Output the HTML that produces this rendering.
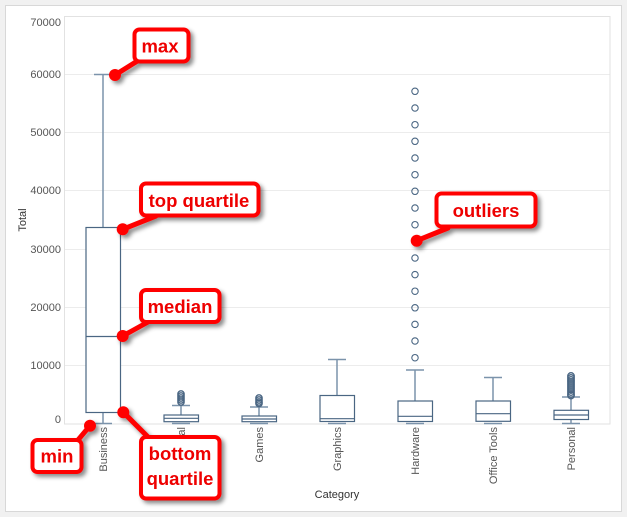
<!DOCTYPE html>
<html><head><meta charset="utf-8"><style>
html,body{margin:0;padding:0;background:#f1f1f1;}
svg{display:block;}
text{font-family:"Liberation Sans",Arial,sans-serif;}
</style></head><body>
<svg width="627" height="517" viewBox="0 0 627 517" xmlns="http://www.w3.org/2000/svg">
<defs>
<filter id="sh" x="-20%" y="-20%" width="150%" height="160%">
<feDropShadow dx="3" dy="3" stdDeviation="2" flood-color="#000" flood-opacity="0.45"/>
</filter>
</defs>
<rect x="0" y="0" width="627" height="517" fill="#f1f1f1"/>
<rect x="5.5" y="5.5" width="616" height="506" fill="#fff" stroke="#d8d8d8"/>

<!-- grid -->
<g stroke="#ececec" stroke-width="1">
<line x1="64" x2="610" y1="74.5" y2="74.5"/>
<line x1="64" x2="610" y1="132.5" y2="132.5"/>
<line x1="64" x2="610" y1="190.5" y2="190.5"/>
<line x1="64" x2="610" y1="249.5" y2="249.5"/>
<line x1="64" x2="610" y1="307.5" y2="307.5"/>
<line x1="64" x2="610" y1="365.5" y2="365.5"/>
</g>
<rect x="64.5" y="16.5" width="545.5" height="407.5" fill="none" stroke="#e2e2e2"/>

<!-- y ticks -->
<g font-size="11" fill="#555" text-anchor="end">
<text x="61" y="26">70000</text>
<text x="61" y="78">60000</text>
<text x="61" y="136">50000</text>
<text x="61" y="194">40000</text>
<text x="61" y="253">30000</text>
<text x="61" y="311">20000</text>
<text x="61" y="369">10000</text>
<text x="61" y="423">0</text>
</g>
<text transform="translate(26,220) rotate(-90)" font-size="11" fill="#333" text-anchor="middle">Total</text>

<!-- x labels -->
<g font-size="11" fill="#555" text-anchor="end">
<text transform="translate(107,427) rotate(-90)">Business</text>
<text transform="translate(185,427) rotate(-90)">Educational</text>
<text transform="translate(263,427) rotate(-90)">Games</text>
<text transform="translate(341,427) rotate(-90)">Graphics</text>
<text transform="translate(419,427) rotate(-90)">Hardware</text>
<text transform="translate(497,427) rotate(-90)">Office Tools</text>
<text transform="translate(575,427) rotate(-90)">Personal</text>
</g>
<text x="337" y="498" font-size="11" fill="#333" text-anchor="middle">Category</text>

<!-- whiskers -->
<g stroke="#7b93ab" stroke-width="1.5" fill="none">
<line x1="103" x2="103" y1="74.5" y2="227.5"/>
<line x1="94" x2="112" y1="74.5" y2="74.5"/>
<line x1="103" x2="103" y1="412.5" y2="423.5"/>
<line x1="94" x2="112" y1="423.5" y2="423.5"/>
<line x1="181" x2="181" y1="405.5" y2="415"/>
<line x1="172" x2="190" y1="405.5" y2="405.5"/>
<line x1="172" x2="190" y1="423.5" y2="423.5"/>
<line x1="259" x2="259" y1="407" y2="416"/>
<line x1="250" x2="268" y1="407" y2="407"/>
<line x1="250" x2="268" y1="423.5" y2="423.5"/>
<line x1="337" x2="337" y1="359.5" y2="395.5"/>
<line x1="328" x2="346" y1="359.5" y2="359.5"/>
<line x1="328" x2="346" y1="423.5" y2="423.5"/>
<line x1="415" x2="415" y1="370" y2="401"/>
<line x1="406" x2="424" y1="370" y2="370"/>
<line x1="406" x2="424" y1="423.5" y2="423.5"/>
<line x1="493" x2="493" y1="377.5" y2="401"/>
<line x1="484" x2="502" y1="377.5" y2="377.5"/>
<line x1="484" x2="502" y1="423.5" y2="423.5"/>
<line x1="571" x2="571" y1="397" y2="410"/>
<line x1="562" x2="580" y1="397" y2="397"/>
<line x1="571" x2="571" y1="419.5" y2="423.5"/>
<line x1="562" x2="580" y1="423.5" y2="423.5"/>
</g>

<!-- boxes -->
<g stroke="#4a6683" stroke-width="1.2" fill="#fff">
<rect x="86" y="227.5" width="34.5" height="185"/>
<line x1="86" x2="120.5" y1="336.5" y2="336.5"/>
<rect x="164" y="415" width="34.5" height="6.7"/>
<line x1="164" x2="198.5" y1="418.3" y2="418.3"/>
<rect x="242" y="416" width="34.5" height="5.7"/>
<line x1="242" x2="276.5" y1="419" y2="419"/>
<rect x="320" y="395.5" width="34.5" height="26"/>
<line x1="320" x2="354.5" y1="418.7" y2="418.7"/>
<rect x="398" y="401" width="34.5" height="20.5"/>
<line x1="398" x2="432.5" y1="416.3" y2="416.3"/>
<rect x="476" y="401" width="34.5" height="20.3"/>
<line x1="476" x2="510.5" y1="413.7" y2="413.7"/>
<rect x="554" y="410.3" width="34.5" height="9.2"/>
<line x1="554" x2="588.5" y1="415" y2="415"/>
</g>

<!-- outliers -->
<g stroke="#4a6683" stroke-width="1.3" fill="none">
<circle cx="181" cy="394" r="3.2"/><circle cx="181" cy="396" r="3.2"/><circle cx="181" cy="398" r="3.2"/><circle cx="181" cy="400" r="3.2"/><circle cx="181" cy="402" r="3.2"/>
<circle cx="259" cy="398" r="3.2"/><circle cx="259" cy="400" r="3.2"/><circle cx="259" cy="402" r="3.2"/><circle cx="259" cy="403.5" r="3.2"/>
<circle cx="571" cy="376" r="3.3"/><circle cx="571" cy="378" r="3.3"/><circle cx="571" cy="380" r="3.3"/><circle cx="571" cy="382" r="3.3"/><circle cx="571" cy="384" r="3.3"/><circle cx="571" cy="386" r="3.3"/><circle cx="571" cy="388" r="3.3"/><circle cx="571" cy="390" r="3.3"/><circle cx="571" cy="392" r="3.3"/><circle cx="571" cy="394" r="3.3"/><circle cx="571" cy="395.5" r="3.3"/>
</g>
<g stroke="#4a6683" stroke-width="1.1" fill="none">
<circle cx="415" cy="91.3" r="3.2"/><circle cx="415" cy="108" r="3.2"/><circle cx="415" cy="124.7" r="3.2"/><circle cx="415" cy="141.3" r="3.2"/><circle cx="415" cy="158" r="3.2"/><circle cx="415" cy="174.7" r="3.2"/><circle cx="415" cy="191.3" r="3.2"/><circle cx="415" cy="208" r="3.2"/><circle cx="415" cy="224.7" r="3.2"/><circle cx="415" cy="241.3" r="3.2"/><circle cx="415" cy="258" r="3.2"/><circle cx="415" cy="274.6" r="3.2"/><circle cx="415" cy="291.2" r="3.2"/><circle cx="415" cy="307.8" r="3.2"/><circle cx="415" cy="324.4" r="3.2"/><circle cx="415" cy="341" r="3.2"/><circle cx="415" cy="357.7" r="3.2"/>
</g>

<!-- annotations -->
<g filter="url(#sh)">
<g stroke="#f00" stroke-width="5" stroke-linecap="round" fill="none">
<line x1="115" y1="75" x2="139" y2="60"/>
<line x1="122.7" y1="229.3" x2="156" y2="216"/>
<line x1="122.7" y1="336" x2="148" y2="322"/>
<line x1="123.3" y1="412.3" x2="148" y2="437"/>
<line x1="90" y1="425.7" x2="78" y2="440"/>
<line x1="416.7" y1="240.7" x2="448" y2="228"/>
</g>
<g fill="#f00">
<circle cx="115" cy="75" r="6"/>
<circle cx="122.7" cy="229.3" r="6"/>
<circle cx="122.7" cy="336" r="6"/>
<circle cx="123.3" cy="412.3" r="6"/>
<circle cx="90" cy="425.7" r="6"/>
<circle cx="416.7" cy="240.7" r="6"/>
</g>
<g fill="#fff" stroke="#f00" stroke-width="4">
<rect x="134.5" y="29.5" width="54" height="32" rx="5"/>
<rect x="141" y="183.5" width="117.5" height="32" rx="5"/>
<rect x="141" y="290" width="78.5" height="32" rx="5"/>
<rect x="32.5" y="440" width="49" height="32" rx="5"/>
<rect x="141" y="437" width="78.5" height="61.5" rx="5"/>
<rect x="436.5" y="193.5" width="99" height="33" rx="5"/>
</g>
</g>
<g fill="#e00" font-size="18.5" font-weight="bold" text-anchor="middle">
<text x="160" y="52.5">max</text>
<text x="199" y="207">top quartile</text>
<text x="180" y="313">median</text>
<text x="57" y="462.5">min</text>
<text x="180" y="460">bottom</text>
<text x="180" y="485">quartile</text>
<text x="486" y="217">outliers</text>
</g>
</svg>
</body></html>
